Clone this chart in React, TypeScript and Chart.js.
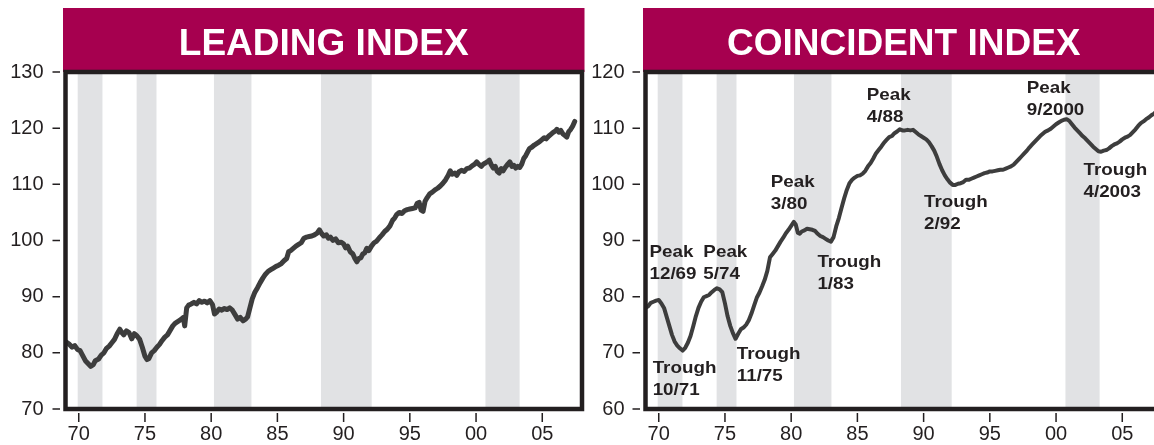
import React, { useEffect, useRef } from 'react';
import { Chart, registerables } from 'chart.js';

Chart.register(...registerables);

// ---------- DATA ----------
const leadingYears = [
  1969.0, 1969.25, 1969.5, 1969.7, 1969.9, 1970.1, 1970.3, 1970.5, 1970.7, 1970.9,
  1971.1, 1971.25, 1971.5, 1971.7, 1971.9, 1972.1, 1972.3, 1972.5, 1972.7, 1972.9,
  1973.1, 1973.25, 1973.4, 1973.6, 1973.8, 1974.0, 1974.2, 1974.4, 1974.6, 1974.8,
  1975.0, 1975.15, 1975.3, 1975.5, 1975.7, 1975.9, 1976.1, 1976.3, 1976.5, 1976.7,
  1976.9, 1977.1, 1977.3, 1977.5, 1977.7, 1977.9, 1978.0, 1978.15, 1978.3, 1978.5,
  1978.7, 1978.9, 1979.1, 1979.3, 1979.5, 1979.7, 1979.9, 1980.1, 1980.25, 1980.4,
  1980.6, 1980.8, 1981.0, 1981.2, 1981.4, 1981.6, 1981.8, 1982.0, 1982.2, 1982.4,
  1982.6, 1982.75, 1982.9, 1983.1, 1983.3, 1983.5, 1983.7, 1983.9, 1984.1, 1984.3,
  1984.5, 1984.7, 1984.9, 1985.1, 1985.3, 1985.5, 1985.7, 1985.85, 1986.0, 1986.2,
  1986.4, 1986.6, 1986.8, 1987.0, 1987.2, 1987.4, 1987.6, 1987.8, 1988.0, 1988.17,
  1988.35, 1988.5, 1988.7, 1988.85, 1989.0, 1989.2, 1989.4, 1989.6, 1989.8, 1990.0,
  1990.15, 1990.3, 1990.5, 1990.7, 1990.85, 1991.0, 1991.15, 1991.3, 1991.45, 1991.6,
  1991.75, 1991.9, 1992.1, 1992.3, 1992.5, 1992.7, 1992.9, 1993.1, 1993.3, 1993.5,
  1993.7, 1993.85, 1994.0, 1994.2, 1994.4, 1994.6, 1994.8, 1995.0, 1995.2, 1995.4,
  1995.55, 1995.7, 1995.85, 1996.0, 1996.15, 1996.3, 1996.5, 1996.7, 1996.9, 1997.1,
  1997.3, 1997.5, 1997.7, 1997.9, 1998.05, 1998.2, 1998.4, 1998.55, 1998.7, 1998.9,
  1999.1, 1999.3, 1999.5, 1999.7, 1999.9, 2000.05, 2000.2, 2000.4, 2000.55, 2000.7,
  2000.9, 2001.0, 2001.15, 2001.3, 2001.45, 2001.6, 2001.75, 2001.9, 2002.05, 2002.2,
  2002.4, 2002.55, 2002.7, 2002.85, 2003.0, 2003.15, 2003.3, 2003.45, 2003.6, 2003.75,
  2003.9, 2004.05, 2004.2, 2004.4, 2004.6, 2004.8, 2005.0, 2005.15, 2005.3, 2005.5,
  2005.65, 2005.8, 2006.0, 2006.1, 2006.25, 2006.4, 2006.55, 2006.7, 2006.85, 2007.0,
  2007.15, 2007.3, 2007.45,
];
const leadingValues = [
  82.0, 81.6, 81.0, 81.3, 80.6, 80.4, 79.5, 78.6, 78.1, 77.6,
  77.9, 78.6, 78.9, 79.6, 80.0, 80.8, 81.2, 81.8, 82.4, 83.4,
  84.2, 83.6, 83.2, 83.9, 83.6, 82.5, 83.4, 83.0, 82.4, 81.0,
  79.4, 78.8, 79.0, 80.0, 80.4, 81.0, 81.5, 82.2, 82.8, 83.2,
  84.0, 84.8, 85.3, 85.6, 85.9, 86.3, 84.8, 88.0, 88.5, 88.7,
  89.0, 88.7, 89.3, 89.0, 89.2, 88.9, 89.3, 88.6, 86.9, 87.2,
  87.8, 87.6, 87.9, 87.7, 88.0, 87.6, 86.8, 86.0, 86.3, 85.7,
  86.0, 86.4, 87.8, 89.6, 90.8, 91.6, 92.5, 93.3, 94.0, 94.5,
  94.8, 95.1, 95.4, 95.6, 95.9, 96.4, 96.8, 98.0, 98.2, 98.6,
  99.0, 99.3, 99.6, 100.4, 100.6, 100.7, 100.8, 101.0, 101.3, 101.9,
  101.2, 100.8, 101.0, 100.4, 100.6, 100.0, 100.3, 99.6, 99.7, 99.4,
  98.7, 99.0, 98.0, 97.6, 96.8, 96.2, 96.8, 96.9, 97.6, 97.8,
  98.6, 98.2, 99.0, 99.6, 99.9, 100.5, 101.0, 101.6, 102.0, 102.6,
  103.6, 104.0, 104.6, 105.0, 104.8, 105.3, 105.5, 105.6, 105.7, 105.8,
  106.6, 106.8, 105.4, 105.2, 107.0, 107.6, 108.3, 108.6, 109.0, 109.3,
  109.7, 110.2, 110.8, 111.6, 112.4, 111.8, 112.0, 111.6, 112.2, 112.5,
  112.3, 112.8, 112.9, 113.3, 113.6, 114.0, 113.6, 113.2, 113.6, 113.8,
  114.1, 114.3, 113.5, 112.9, 113.2, 112.3, 112.0, 112.8, 112.4, 113.0,
  113.6, 114.0, 113.2, 113.4, 112.9, 113.2, 113.0, 113.6, 114.6, 115.1,
  115.8, 116.4, 116.6, 117.0, 117.3, 117.6, 118.0, 118.3, 118.1, 118.6,
  118.9, 119.2, 119.5, 119.8, 119.3, 119.6, 119.0, 118.7, 118.4, 119.4,
  119.8, 120.4, 121.2,
];

const coincidentYears = [
  1969.0, 1969.2, 1969.4, 1969.6, 1969.8, 1970.0, 1970.2, 1970.4, 1970.6, 1970.8,
  1971.0, 1971.2, 1971.4, 1971.6, 1971.8, 1972.0, 1972.2, 1972.4, 1972.6, 1972.8,
  1973.0, 1973.2, 1973.4, 1973.6, 1973.8, 1974.0, 1974.2, 1974.4, 1974.6, 1974.8,
  1975.0, 1975.2, 1975.4, 1975.6, 1975.8, 1976.0, 1976.2, 1976.4, 1976.6, 1976.8,
  1977.0, 1977.2, 1977.4, 1977.6, 1977.8, 1978.0, 1978.2, 1978.4, 1978.6, 1978.8,
  1979.0, 1979.2, 1979.4, 1979.6, 1979.8, 1980.0, 1980.2, 1980.35, 1980.5, 1980.65,
  1980.8, 1981.0, 1981.2, 1981.4, 1981.6, 1981.8, 1982.0, 1982.2, 1982.4, 1982.6,
  1982.8, 1983.0, 1983.2, 1983.4, 1983.6, 1983.8, 1984.0, 1984.2, 1984.4, 1984.6,
  1984.8, 1985.0, 1985.2, 1985.4, 1985.6, 1985.8, 1986.0, 1986.2, 1986.4, 1986.6,
  1986.8, 1987.0, 1987.2, 1987.4, 1987.6, 1987.8, 1988.0, 1988.2, 1988.4, 1988.6,
  1988.8, 1989.0, 1989.2, 1989.4, 1989.6, 1989.8, 1990.0, 1990.2, 1990.4, 1990.6,
  1990.8, 1991.0, 1991.2, 1991.4, 1991.6, 1991.8, 1992.0, 1992.2, 1992.4, 1992.6,
  1992.8, 1993.0, 1993.2, 1993.4, 1993.6, 1993.8, 1994.0, 1994.2, 1994.4, 1994.6,
  1994.8, 1995.0, 1995.2, 1995.4, 1995.6, 1995.8, 1996.0, 1996.2, 1996.4, 1996.6,
  1996.8, 1997.0, 1997.2, 1997.4, 1997.6, 1997.8, 1998.0, 1998.2, 1998.4, 1998.6,
  1998.8, 1999.0, 1999.2, 1999.4, 1999.6, 1999.8, 2000.0, 2000.2, 2000.4, 2000.6,
  2000.8, 2001.0, 2001.2, 2001.4, 2001.6, 2001.8, 2002.0, 2002.2, 2002.4, 2002.6,
  2002.8, 2003.0, 2003.2, 2003.4, 2003.6, 2003.8, 2004.0, 2004.2, 2004.4, 2004.6,
  2004.8, 2005.0, 2005.2, 2005.4, 2005.6, 2005.8, 2006.0, 2006.2, 2006.4, 2006.6,
  2006.8, 2007.0, 2007.2, 2007.4, 2007.6,
];
const coincidentValues = [
  78.0, 78.3, 78.9, 79.1, 79.3, 79.4, 78.8, 78.0, 76.4, 74.8,
  73.2, 72.0, 71.3, 70.8, 70.4, 70.9, 71.8, 73.0, 74.7, 76.5,
  78.0, 79.1, 79.9, 80.1, 80.3, 80.8, 81.2, 81.5, 81.3, 80.8,
  78.8, 76.5, 74.8, 73.5, 72.5, 73.4, 74.2, 74.5, 75.0, 75.8,
  77.0, 78.4, 79.8, 80.7, 81.8, 83.0, 84.6, 87.0, 87.6, 88.2,
  89.0, 89.8, 90.5, 91.3, 91.9, 92.6, 93.3, 92.8, 91.4, 91.2,
  91.6, 91.8, 92.1, 92.0, 91.9, 91.7, 91.2, 90.8, 90.6, 90.3,
  90.0, 89.8, 90.6, 92.5, 94.0, 95.8, 97.5, 99.0, 100.2, 100.8,
  101.2, 101.5, 101.6, 101.9, 102.4, 103.2, 103.8, 104.6, 105.5, 106.1,
  106.7, 107.4, 107.9, 108.4, 108.6, 109.1, 109.4, 109.8, 109.6, 109.6,
  109.7, 109.6, 109.7, 109.3, 108.9, 108.6, 108.3, 108.0, 107.5, 106.8,
  106.0, 104.9, 103.6, 102.5, 101.6, 100.9, 100.3, 99.9, 99.9, 100.1,
  100.2, 100.4, 100.8, 100.8, 101.0, 101.2, 101.4, 101.6, 101.8, 102.0,
  102.1, 102.3, 102.3, 102.4, 102.5, 102.6, 102.6, 102.8, 103.0, 103.2,
  103.5, 104.0, 104.5, 105.0, 105.5, 106.0, 106.6, 107.1, 107.6, 108.1,
  108.6, 109.0, 109.4, 109.6, 109.9, 110.3, 110.7, 111.0, 111.3, 111.5,
  111.6, 111.3, 110.7, 110.1, 109.6, 109.1, 108.6, 108.2, 107.7, 107.2,
  106.7, 106.3, 105.9, 105.8, 106.0, 106.1, 106.4, 106.8, 107.1, 107.3,
  107.6, 108.0, 108.3, 108.5, 108.8, 109.3, 109.8, 110.4, 110.9, 111.2,
  111.6, 111.9, 112.3, 112.6, 113.0,
];

// Peak-to-trough (shaded) periods
const recessionStarts = [1969.92, 1974.37, 1980.21, 1988.29, 2000.71];
const recessionEnds = [1971.79, 1975.87, 1983.04, 1992.12, 2003.29];

const xTickYears = [1970, 1975, 1980, 1985, 1990, 1995, 2000, 2005];
const xTickLabels = ['70', '75', '80', '85', '90', '95', '00', '05'];
const leadingYTicks = [70, 80, 90, 100, 110, 120, 130];
const coincidentYTicks = [60, 70, 80, 90, 100, 110, 120];

const leadingTitle = 'LEADING INDEX';
const coincidentTitle = 'COINCIDENT INDEX';

const annotationLines = [
  ['Peak', '12/69'],
  ['Peak', '5/74'],
  ['Trough', '10/71'],
  ['Trough', '11/75'],
  ['Peak', '3/80'],
  ['Trough', '1/83'],
  ['Peak', '4/88'],
  ['Trough', '2/92'],
  ['Peak', '9/2000'],
  ['Trough', '4/2003'],
];
// anchor (left edge of text, baseline of first line) in data coordinates
const annotationYears = [1969.3, 1973.37, 1969.54, 1975.89, 1978.46, 1981.98, 1985.71, 1990.03, 1997.79, 2002.07];
const annotationValues = [87.06, 87.06, 66.36, 68.85, 99.58, 85.34, 115.0, 95.91, 116.31, 101.66];

// ---------- STYLE ----------
const BANNER = '#a6004f';
const INK = '#231f20';
const SHADE = '#e1e2e4';
const LINE = '#3d3d3d';
const FONT = "'Liberation Sans', Arial, Helvetica, sans-serif";

type PanelProps = {
  years: number[];
  values: number[];
  yTicks: number[];
  title: string;
  lineWidth: number;
  yWidth: number;
  padRight: number;
  yPad: number;
  canvasWidth: number;
  left: number;
  annotations: boolean;
};

function Panel(p: PanelProps) {
  const ref = useRef<HTMLCanvasElement | null>(null);

  useEffect(() => {
    const canvas = ref.current;
    if (!canvas) return;

    const decor = {
      id: 'decor',
      beforeDatasetsDraw(chart: any) {
        const { ctx, chartArea: a, scales } = chart;
        const xs = scales.x;
        ctx.save();
        ctx.fillStyle = SHADE;
        for (let i = 0; i < recessionStarts.length; i++) {
          const x1 = xs.getPixelForValue(recessionStarts[i]);
          const x2 = xs.getPixelForValue(recessionEnds[i]);
          ctx.fillRect(x1, a.top, x2 - x1, a.bottom - a.top);
        }
        ctx.restore();
      },
      afterDraw(chart: any) {
        const { ctx, chartArea: a, scales } = chart;
        const xs = scales.x;
        const ys = scales.y;
        ctx.save();
        // banner
        ctx.fillStyle = BANNER;
        ctx.fillRect(a.left - 2.5, 8, a.right - a.left + 5, a.top - 8);
        ctx.fillStyle = '#ffffff';
        ctx.font = `bold 37px ${FONT}`;
        ctx.textAlign = 'center';
        ctx.textBaseline = 'alphabetic';
        ctx.fillText(p.title, (a.left + a.right) / 2, 55);
        // frame
        ctx.strokeStyle = INK;
        ctx.lineWidth = 4.5;
        ctx.lineJoin = 'miter';
        ctx.strokeRect(a.left, a.top, a.right - a.left, a.bottom - a.top);
        // tick marks
        ctx.lineWidth = 1.5;
        ctx.beginPath();
        for (const v of p.yTicks) {
          const y = ys.getPixelForValue(v);
          ctx.moveTo(a.left - 13, y);
          ctx.lineTo(a.left - 5.5, y);
        }
        for (const v of xTickYears) {
          const x = xs.getPixelForValue(v);
          ctx.moveTo(x, a.bottom + 4);
          ctx.lineTo(x, a.bottom + 13);
        }
        ctx.stroke();
        // annotations
        if (p.annotations) {
          ctx.fillStyle = INK;
          ctx.font = `bold 16.5px ${FONT}`;
          ctx.textAlign = 'left';
          ctx.textBaseline = 'alphabetic';
          for (let i = 0; i < annotationLines.length; i++) {
            const x = xs.getPixelForValue(annotationYears[i]);
            const y = ys.getPixelForValue(annotationValues[i]);
            annotationLines[i].forEach((t, k) => {
              ctx.save();
              ctx.translate(x, y + k * 22);
              ctx.scale(1.14, 1);
              ctx.fillText(t, 0, 0);
              ctx.restore();
            });
          }
        }
        ctx.restore();
      },
    };

    const chart = new Chart(canvas, {
      type: 'line',
      data: {
        datasets: [
          {
            data: p.years.map((x, i) => ({ x, y: p.values[i] })),
            borderColor: LINE,
            borderWidth: p.lineWidth,
            pointRadius: 0,
            tension: 0,
            borderJoinStyle: 'round',
            borderCapStyle: 'round',
            fill: false,
          },
        ],
      },
      options: {
        animation: false,
        responsive: false,
        events: [],
        layout: { padding: { top: 72, right: p.padRight, left: 0, bottom: 0 } },
        plugins: { legend: { display: false }, tooltip: { enabled: false }, title: { display: false } },
        scales: {
          x: {
            type: 'linear',
            min: 1969,
            max: 2008,
            grid: { display: false, drawTicks: false },
            border: { display: false },
            afterBuildTicks: (s: any) => {
              s.ticks = xTickYears.map((v) => ({ value: v }));
            },
            afterFit: (s: any) => {
              s.height = 36;
            },
            ticks: {
              padding: 13,
              color: INK,
              font: { family: FONT, size: 20 },
              maxRotation: 0,
              autoSkip: false,
              callback: (v: any) => xTickLabels[xTickYears.indexOf(Number(v))] ?? '',
            },
          },
          y: {
            type: 'linear',
            min: p.yTicks[0],
            max: p.yTicks[p.yTicks.length - 1],
            grid: { display: false, drawTicks: false },
            border: { display: false },
            afterBuildTicks: (s: any) => {
              s.ticks = p.yTicks.map((v) => ({ value: v }));
            },
            afterFit: (s: any) => {
              s.width = p.yWidth;
            },
            ticks: {
              padding: p.yPad,
              color: INK,
              font: { family: FONT, size: 20 },
              autoSkip: false,
              callback: (v: any) => String(v),
            },
          },
        },
      },
      plugins: [decor],
    } as any);

    return () => chart.destroy();
  }, []);

  return (
    <canvas
      ref={ref}
      width={p.canvasWidth}
      height={445}
      style={{ position: 'absolute', left: p.left, top: 0, width: p.canvasWidth, height: 445 }}
    />
  );
}

export default function App() {
  return (
    <div
      style={{
        position: 'absolute',
        left: 0,
        top: 0,
        width: 1154,
        height: 445,
        overflow: 'hidden',
        background: '#ffffff',
      }}
    >
      <Panel
        years={leadingYears}
        values={leadingValues}
        yTicks={leadingYTicks}
        title={leadingTitle}
        lineWidth={5}
        yWidth={65.5}
        padRight={10}
        yPad={22}
        canvasWidth={592}
        left={0}
        annotations={false}
      />
      <Panel
        years={coincidentYears}
        values={coincidentValues}
        yTicks={coincidentYTicks}
        title={coincidentTitle}
        lineWidth={4}
        yWidth={60.5}
        padRight={23}
        yPad={21}
        canvasWidth={600}
        left={585}
        annotations={true}
      />
    </div>
  );
}
